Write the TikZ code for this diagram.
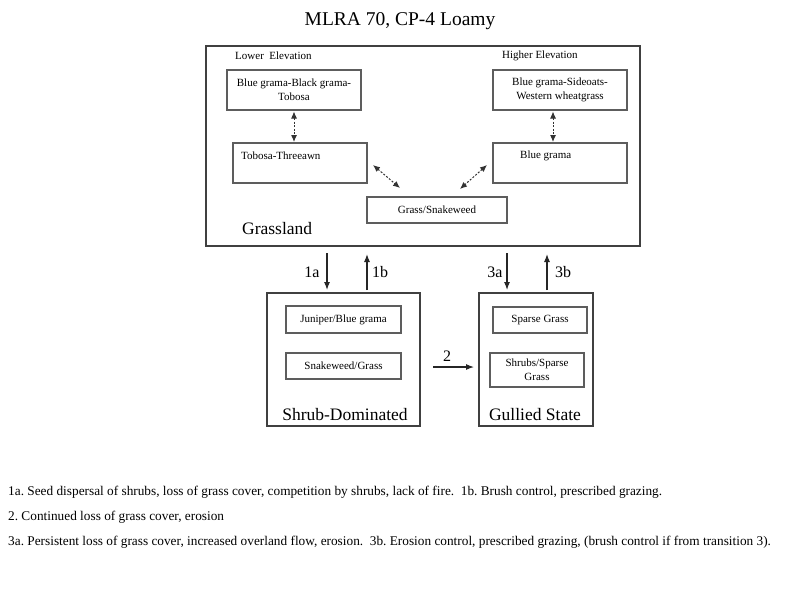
\documentclass[tikz,border=0pt]{standalone}
\usepackage{fontspec}
\setmainfont{Liberation Serif}
\usetikzlibrary{arrows.meta}
\frenchspacing
\definecolor{boxline}{HTML}{404040}
\tikzset{
  outerbox/.style={draw=boxline, line width=1.7pt, inner sep=0pt},
  innerbox/.style={draw=boxline!85, line width=1.1pt, inner sep=0pt, align=center, font=\fontsize{11}{14}\selectfont},
  smalltxt/.style={inner sep=0pt, font=\fontsize{11}{14}\selectfont},
  bigtxt/.style={inner sep=0pt, font=\fontsize{17.5}{20}\selectfont},
  trtxt/.style={inner sep=0pt, font=\fontsize{16}{18}\selectfont},
  notetxt/.style={inner sep=0pt, anchor=west, font=\fontsize{13.3}{15}\selectfont},
  dotarrow/.style={{Latex[length=7pt,width=6pt]}-{Latex[length=7pt,width=6pt]}, line width=1pt, dash pattern=on 2pt off 1.6pt, black!80},
  trarrow/.style={-{Latex[length=8pt,width=6pt]}, line width=1.1pt, black!85}
}
\begin{document}
\begin{tikzpicture}[x=1pt,y=-1pt]
\useasboundingbox (0,0) rectangle (800,600);
\fill[white] (0,0) rectangle (800,600);
% title
\node[inner sep=0pt, font=\fontsize{19.5}{22}\selectfont] (title) at (400,21) {MLRA 70, CP-4 Loamy};
% Grassland state
\node[outerbox, minimum width=434pt, minimum height=200pt] (G) at (423,146) {};
\node[smalltxt, anchor=west] (lowE) at (235,56) {Lower~ Elevation};
\node[smalltxt, anchor=west] (highE) at (502,56) {Higher Elevation};
\node[innerbox, minimum width=134pt, minimum height=40pt] (A) at (294,90) {Blue grama-Black grama-\\Tobosa};
\node[innerbox, minimum width=134pt, minimum height=40pt] (B) at (560,90) {Blue grama-Sideoats-\\Western wheatgrass};
\node[innerbox, minimum width=134pt, minimum height=40pt] (C) at (300,163) {};
\node[smalltxt, anchor=west] (Ct) at (241,156) {Tobosa-Threeawn};
\node[innerbox, minimum width=134pt, minimum height=40pt] (D) at (560,163) {};
\node[smalltxt, anchor=west] (Dt) at (520,156) {Blue grama};
\node[innerbox, minimum width=140pt, minimum height=26pt] (E) at (437,210) {Grass/Snakeweed};
\node[bigtxt, anchor=west] (Gl) at (242,229) {Grassland};
% dotted double arrows
\coordinate (ab1) at (294,111.5);
\coordinate (ab2) at (294,142);
\draw[dotarrow] (ab1) -- (ab2);
\coordinate (bd1) at (553,111.5);
\coordinate (bd2) at (553,142);
\draw[dotarrow] (bd1) -- (bd2);
\coordinate (ce1) at (373,165);
\coordinate (ce2) at (400,188);
\draw[dotarrow] (ce1) -- (ce2);
\coordinate (de1) at (487,165);
\coordinate (de2) at (460,189);
\draw[dotarrow] (de1) -- (de2);
% Shrub-Dominated state
\node[outerbox, minimum width=153pt, minimum height=133pt] (S) at (343.5,359.5) {};
\node[innerbox, minimum width=115pt, minimum height=27pt] (S1) at (343.5,319.5) {Juniper/Blue grama};
\node[innerbox, minimum width=115pt, minimum height=26pt] (S2) at (343.5,366) {Snakeweed/Grass};
\node[bigtxt] (Sl) at (345,415) {Shrub-Dominated};
% Gullied state
\node[outerbox, minimum width=114pt, minimum height=133pt] (U) at (536,359.5) {};
\node[innerbox, minimum width=94pt, minimum height=26pt] (U1) at (540,320) {Sparse Grass};
\node[innerbox, minimum width=94pt, minimum height=34pt] (U2) at (537,370) {Shrubs/Sparse\\Grass};
\node[bigtxt] (Ul) at (535,415) {Gullied State};
% transitions
\coordinate (t1a1) at (327,253);
\coordinate (t1a2) at (327,290);
\draw[trarrow] (t1a1) -- (t1a2);
\coordinate (t1b1) at (367,290);
\coordinate (t1b2) at (367,254);
\draw[trarrow] (t1b1) -- (t1b2);
\coordinate (t3a1) at (507,253);
\coordinate (t3a2) at (507,290);
\draw[trarrow] (t3a1) -- (t3a2);
\coordinate (t3b1) at (547,290);
\coordinate (t3b2) at (547,254);
\draw[trarrow] (t3b1) -- (t3b2);
\coordinate (t21) at (433,367);
\coordinate (t22) at (474,367);
\draw[trarrow] (t21) -- (t22);
\node[trtxt] (l1a) at (312,272) {1a};
\node[trtxt] (l1b) at (380,272) {1b};
\node[trtxt] (l3a) at (495,272) {3a};
\node[trtxt] (l3b) at (563,272) {3b};
\node[trtxt] (l2) at (447,356) {2};
% notes
\node[notetxt] (n1) at (8,492) {1a. Seed dispersal of shrubs, loss of grass cover, competition by shrubs, lack of fire.\ \ 1b. Brush control, prescribed grazing.};
\node[notetxt] (n2) at (8,517) {2. Continued loss of grass cover, erosion};
\node[notetxt] (n3) at (8,542) {3a. Persistent loss of grass cover, increased overland flow, erosion.\ \ 3b. Erosion control, prescribed grazing, (brush control if from transition 3).};
\end{tikzpicture}
\end{document}
